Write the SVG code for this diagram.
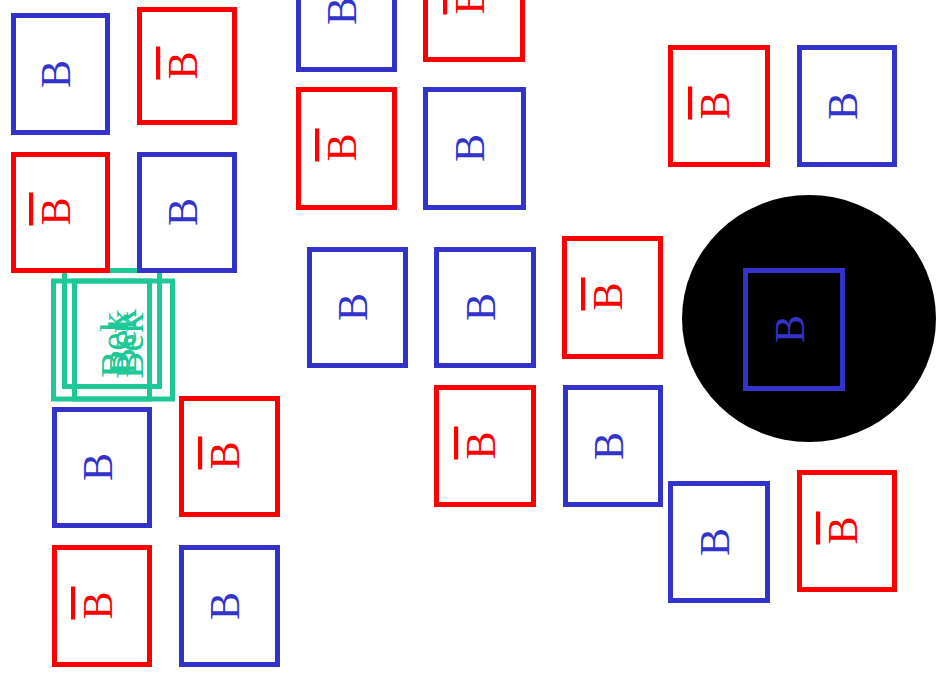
<svg xmlns="http://www.w3.org/2000/svg" width="937" height="673" viewBox="0 0 937 673">
<style>
.bx{fill:none;stroke-width:5}
.bl{stroke:#3333cc}
.rd{stroke:#ff0000}
.gr{fill:none;stroke:#1ec997;stroke-width:5}
.t{font-family:"Liberation Serif","Times New Roman",serif;font-size:42px;text-anchor:middle}
.tb{fill:#3333cc}
.tr{fill:#ff0000;text-decoration:overline;text-decoration-thickness:1px;letter-spacing:5px}
.tg{fill:#1ec997;font-family:"Liberation Serif","Times New Roman",serif;font-size:41px;text-anchor:middle}
</style>
<rect width="937" height="673" fill="#ffffff"/>
<g id="green">
<rect class="gr" x="64.5" y="270.5" width="95" height="116"/>
<rect class="gr" x="53.5" y="281" width="96" height="118"/>
<rect class="gr" x="74.5" y="281" width="98" height="118"/>
<text class="tg" transform="translate(128,345) rotate(-90)">Bek</text>
<text class="tg" transform="translate(136,342) rotate(-90)">Bek</text>
<text class="tg" transform="translate(143,346) rotate(-90)">Bek</text>
</g>
<g id="circle"><ellipse cx="809" cy="318.5" rx="127" ry="123.5" fill="#000000"/></g>
<g id="n1"><rect class="bx bl" x="13.5" y="15.5" width="94" height="117"/><text class="t tb" transform="translate(70,74) rotate(-90)">B</text></g>
<g id="n2"><rect class="bx rd" x="139.5" y="9.5" width="95" height="113"/><text class="t tr" transform="translate(197,63) rotate(-90)">B</text></g>
<g id="n3"><rect class="bx rd" x="13.5" y="154.5" width="94" height="116"/><text class="t tr" transform="translate(70,209) rotate(-90)">B</text></g>
<g id="n4"><rect class="bx bl" x="139.5" y="154.5" width="95" height="116"/><text class="t tb" transform="translate(197,212) rotate(-90)">B</text></g>
<g id="n5"><rect class="bx bl" x="298.5" y="-46.5" width="96" height="116"/><text class="t tb" transform="translate(356,11) rotate(-90)">B</text></g>
<g id="n6"><rect class="bx rd" x="425.5" y="-57.5" width="97" height="117"/><text class="t tr" transform="translate(484,-2) rotate(-90)">B</text></g>
<g id="n7"><rect class="bx rd" x="298.5" y="89.5" width="96" height="118"/><text class="t tr" transform="translate(356,145) rotate(-90)">B</text></g>
<g id="n8"><rect class="bx bl" x="425.5" y="89.5" width="98" height="118"/><text class="t tb" transform="translate(484,148) rotate(-90)">B</text></g>
<g id="n9"><rect class="bx bl" x="309.5" y="249.5" width="96" height="116"/><text class="t tb" transform="translate(367,307) rotate(-90)">B</text></g>
<g id="n10"><rect class="bx bl" x="436.5" y="249.5" width="97" height="116"/><text class="t tb" transform="translate(495,307) rotate(-90)">B</text></g>
<g id="n11"><rect class="bx rd" x="564.5" y="238.5" width="96" height="118"/><text class="t tr" transform="translate(622,294) rotate(-90)">B</text></g>
<g id="n12"><rect class="bx rd" x="436.5" y="387.5" width="97" height="117"/><text class="t tr" transform="translate(495,443) rotate(-90)">B</text></g>
<g id="n13"><rect class="bx bl" x="565.5" y="387.5" width="95" height="117"/><text class="t tb" transform="translate(623,446) rotate(-90)">B</text></g>
<g id="n14"><rect class="bx rd" x="670.5" y="47.5" width="97" height="117"/><text class="t tr" transform="translate(729,103) rotate(-90)">B</text></g>
<g id="n15"><rect class="bx bl" x="799.5" y="47.5" width="95" height="117"/><text class="t tb" transform="translate(857,106) rotate(-90)">B</text></g>
<g id="n16"><rect class="bx bl" x="745.5" y="270.5" width="97" height="118"/><text class="t tb" transform="translate(804,329) rotate(-90)">B</text></g>
<g id="n17"><rect class="bx bl" x="670.5" y="483.5" width="97" height="117"/><text class="t tb" transform="translate(729,542) rotate(-90)">B</text></g>
<g id="n18"><rect class="bx rd" x="799.5" y="472.5" width="95" height="117"/><text class="t tr" transform="translate(857,528) rotate(-90)">B</text></g>
<g id="n19"><rect class="bx bl" x="54.5" y="409.5" width="95" height="116"/><text class="t tb" transform="translate(112,467) rotate(-90)">B</text></g>
<g id="n20"><rect class="bx rd" x="181.5" y="398.5" width="96" height="116"/><text class="t tr" transform="translate(239,453) rotate(-90)">B</text></g>
<g id="n21"><rect class="bx rd" x="54.5" y="547.5" width="95" height="117"/><text class="t tr" transform="translate(112,603) rotate(-90)">B</text></g>
<g id="n22"><rect class="bx bl" x="181.5" y="547.5" width="96" height="117"/><text class="t tb" transform="translate(239,606) rotate(-90)">B</text></g>
<g id="connectors"></g>
</svg>
